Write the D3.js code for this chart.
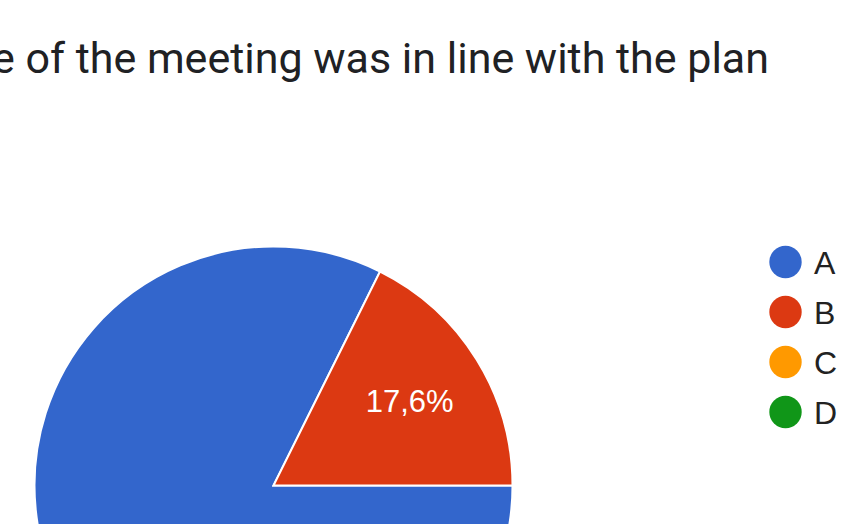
<!DOCTYPE html>
<html><head><meta charset="utf-8">
<script src="https://cdn.jsdelivr.net/npm/d3@7"></script>
<style>html,body{margin:0;padding:0;background:#fff;overflow:hidden}</style>
</head><body>
<svg id="c" width="852" height="524"></svg>
<script>
const titleText = "e of the meeting was in line with the plan";
const categories = ["A","B","C","D"];
const counts = [14, 3, 0, 0];
const colors = ["#3366cc","#dc3912","#ff9900","#109618"];

const svg = d3.select("#c");
const cx = 273.5, cy = 485.5, r = 239;

svg.append("text").attr("x", 769).attr("y", 73)
  .attr("text-anchor","end")
  .attr("font-family","Roboto, 'Open Sans', sans-serif")
  .attr("font-size", 43).attr("fill","#202124")
  .text(titleText);

const data = categories.map((c,i)=>({cat:c, v:counts[i], color:colors[i]}));
const total = d3.sum(counts);
const pie = d3.pie().value(d=>d.v).sort(null)
  .startAngle(Math.PI/2).endAngle(Math.PI/2 + 2*Math.PI);
const arcs = pie(data).filter(d=>d.data.v>0);
const arc = d3.arc().innerRadius(0).outerRadius(r);
const g = svg.append("g").attr("transform",`translate(${cx},${cy})`);
g.selectAll("path").data(arcs).join("path")
  .attr("d", arc).attr("fill", d=>d.data.color)
  .attr("stroke","#fff").attr("stroke-width",2);

const labelArc = d3.arc().innerRadius(r*0.67).outerRadius(r*0.67);
g.selectAll("text.lbl").data(arcs.filter(d=>d.data.v/total < 0.5)).join("text")
  .attr("class","lbl")
  .attr("transform", d=>`translate(${labelArc.centroid(d)})`)
  .attr("text-anchor","middle").attr("dy","0.35em")
  .attr("font-family","'Liberation Sans', Arial, sans-serif")
  .attr("font-size", 31).attr("fill","#fff")
  .text(d=> (d3.format(".1f")(d.data.v/total*100)).replace(".",",") + "%");

const y = d3.scalePoint().domain(categories).range([262, 412]);
const lg = svg.append("g");
lg.selectAll("circle").data(data).join("circle")
  .attr("cx", 785.5).attr("cy", d=>y(d.cat)).attr("r", 16.2)
  .attr("fill", d=>d.color);
lg.selectAll("text").data(data).join("text")
  .attr("x", 814).attr("y", d=>y(d.cat)).attr("dy","0.36em")
  .attr("font-family","'Liberation Sans', Arial, sans-serif")
  .attr("font-size", 32).attr("fill","#222")
  .text(d=>d.cat);
</script>
</body></html>
